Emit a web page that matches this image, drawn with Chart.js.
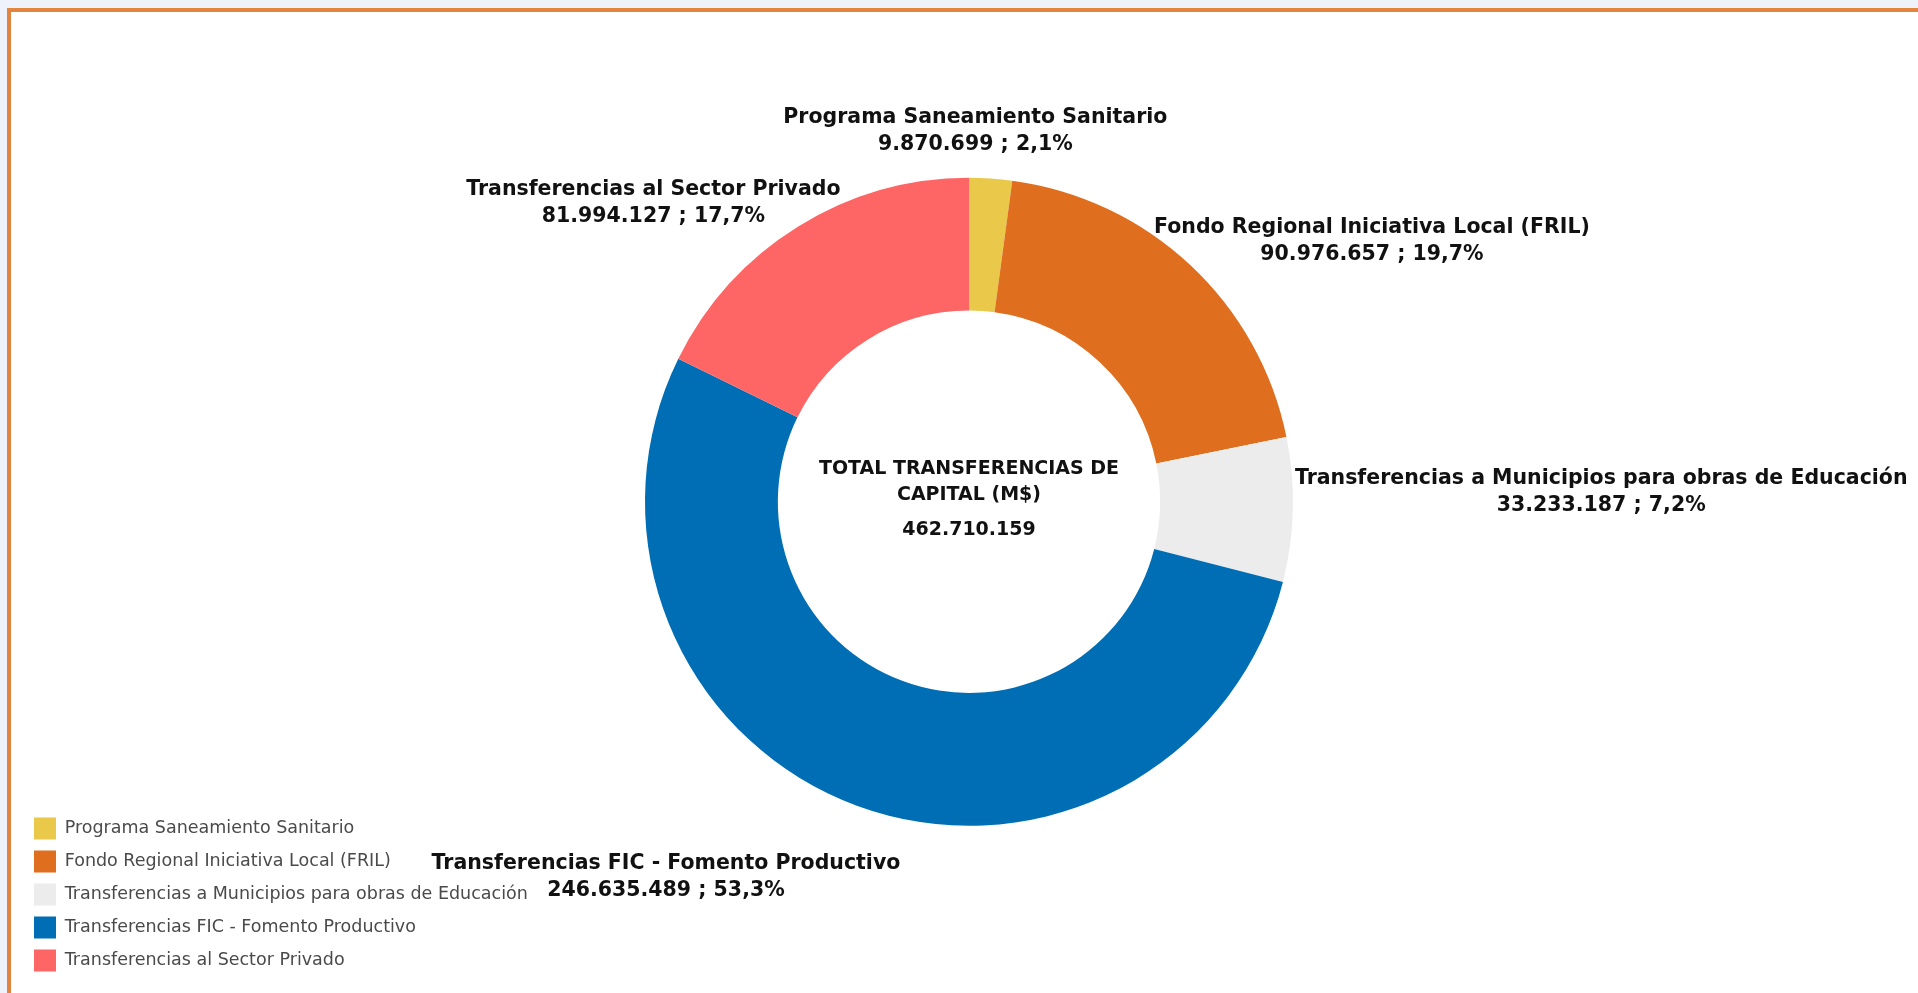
<!DOCTYPE html>
<html>
<head>
<meta charset="utf-8">
<script src="https://cdn.jsdelivr.net/npm/chart.js@4.4.1/dist/chart.umd.min.js"></script>
<style>
  html, body { margin: 0; padding: 0; background: #eef3fb; overflow: hidden; }
  #frame {
    position: absolute; left: 7px; top: 8px;
    width: 2000px; height: 1100px;
    border: 4px solid #e0843f; background: #fff;
  }
  #chart { position: absolute; left: 0; top: 0; }
</style>
</head>
<body>
<div id="frame"></div>
<canvas id="chart" width="1918" height="993"></canvas>
<script>
// Datos del gráfico
const categorias = [
    'Programa Saneamiento Sanitario',
    'Fondo Regional Iniciativa Local (FRIL)',
    'Transferencias a Municipios para obras de Educación',
    'Transferencias FIC - Fomento Productivo',
    'Transferencias al Sector Privado'
];
const montos = [9870699, 90976657, 33233187, 246635489, 81994127];
const colores = ['#e9c84a', '#df6f1f', '#ececec', '#006eb5', '#fe6666'];
const tituloCentro = ['TOTAL TRANSFERENCIAS DE', 'CAPITAL (M$)'];

// Ajuste fino de las etiquetas (dx, dy en px)
const ajusteEtiquetas = [[-16, -15], [-43, 6], [-8, -18], [47, 40], [48, 7]];

const FUENTE = '"DejaVu Sans", Verdana, sans-serif';

function formatoMiles(n) {
    return String(Math.round(n)).replace(/\B(?=(\d{3})+(?!\d))/g, '.');
}

function formatoPct(v, total) {
    return (v / total * 100).toFixed(1).replace('.', ',') + '%';
}

// Etiquetas exteriores + texto central
const etiquetasPlugin = {
    id: 'etiquetas',
    afterDatasetsDraw(chart) {
        const ctx = chart.ctx;
        const meta = chart.getDatasetMeta(0);
        const datos = chart.data.datasets[0].data;
        const total = datos.reduce((a, b) => a + b, 0);
        const lineGap = 27;
        const gap = 10;

        ctx.save();
        ctx.fillStyle = '#111';
        ctx.textAlign = 'center';
        ctx.textBaseline = 'middle';
        ctx.font = 'bold 20.5px ' + FUENTE;

        meta.data.forEach((arc, i) => {
            const p = arc.getProps(['x', 'y', 'startAngle', 'endAngle', 'outerRadius'], true);
            const mid = (p.startAngle + p.endAngle) / 2;
            const dx = Math.cos(mid), dy = Math.sin(mid);
            const l1 = chart.data.labels[i];
            const l2 = formatoMiles(datos[i]) + ' ; ' + formatoPct(datos[i], total);
            const w = Math.max(ctx.measureText(l1).width, ctx.measureText(l2).width);
            const h = lineGap + 18;
            const ax = p.x + dx * (p.outerRadius + gap);
            const ay = p.y + dy * (p.outerRadius + gap);
            const sx = Math.abs(dx) < 0.1 ? 0 : Math.sign(dx);
            const sy = Math.abs(dy) < 0.1 ? 0 : Math.sign(dy);
            const cx = ax + sx * w / 2 + ajusteEtiquetas[i][0];
            const cy = ay + sy * h / 2 + ajusteEtiquetas[i][1];
            ctx.fillText(l1, cx, cy - lineGap / 2);
            ctx.fillText(l2, cx, cy + lineGap / 2);
        });

        // Texto central
        const c = meta.data[0];
        ctx.font = 'bold 19px ' + FUENTE;
        ctx.fillText(tituloCentro[0], c.x, c.y - 33);
        ctx.fillText(tituloCentro[1], c.x, c.y - 7);
        ctx.fillText(formatoMiles(total), c.x, c.y + 28);
        ctx.restore();
    }
};

new Chart(document.getElementById('chart'), {
    type: 'doughnut',
    data: {
        labels: categorias,
        datasets: [{
            data: montos,
            backgroundColor: colores,
            borderWidth: 0,
            hoverOffset: 0,
            radius: 324,
            cutout: '59%'
        }]
    },
    options: {
        responsive: false,
        animation: false,
        layout: { padding: { left: 23, right: 3, top: 10.5, bottom: 0 } },
        plugins: {
            legend: {
                position: 'chartArea',
                align: 'end',
                labels: {
                    boxWidth: 22,
                    boxHeight: 22,
                    padding: 11,
                    color: '#4a4a4a',
                    font: { family: FUENTE, size: 17.5 }
                }
            },
            tooltip: { enabled: false }
        }
    },
    plugins: [etiquetasPlugin]
});
</script>
</body>
</html>
